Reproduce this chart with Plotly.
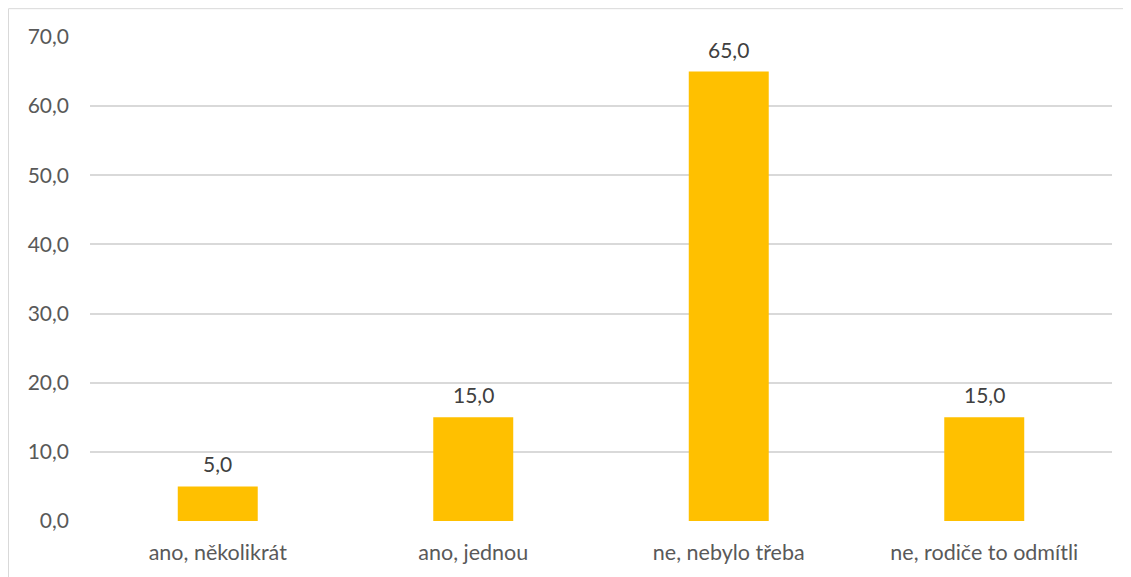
import plotly.graph_objects as go

categories = ["ano, několikrát", "ano, jednou", "ne, nebylo třeba", "ne, rodiče to odmítli"]
values = [5.0, 15.0, 65.0, 15.0]
y_ticks = [0, 10, 20, 30, 40, 50, 60, 70]

OFF = 8  # page body margin
W, H = 1131 - OFF, 577 - OFF
L, R, T, B = 90 - OFF, 19, 37 - OFF, 53
pw, ph = W - L - R, H - T - B

fig = go.Figure(go.Bar(
    x=categories, y=values,
    marker=dict(color="#FFC000", line=dict(width=0)),
    cliponaxis=False, hoverinfo="x+y",
))

for c, v in zip(categories, values):
    fig.add_annotation(x=c, y=v, text=f"{v:.1f}".replace(".", ","), showarrow=False,
                       yanchor="bottom", yshift=8,
                       font=dict(size=21, color="#404040", family="Lato"))

fig.update_layout(
    width=W, height=H,
    margin=dict(l=L, r=R, t=T, b=B, pad=0),
    paper_bgcolor="white", plot_bgcolor="white",
    separators=", ",
    bargap=0.687,
    showlegend=False,
    font=dict(family="Lato", size=21, color="#595959"),
    xaxis=dict(showgrid=False, showline=False, ticks="", ticklabelstandoff=16,
               tickfont=dict(size=21.5, color="#595959")),
    yaxis=dict(range=[0, 70], tickvals=y_ticks, tickformat=".1f",
               showgrid=True, gridcolor="#D9D9D9", gridwidth=1.5,
               zeroline=False, showline=False, ticks="", ticklen=0, ticklabelstandoff=20,
               tickfont=dict(size=21, color="#595959")),
    shapes=[dict(type="rect", xref="paper", yref="paper",
                 x0=(0.5 - L) / pw, x1=(W + 5 - L) / pw,
                 y0=(ph - (H + 5 - T)) / ph, y1=(ph - (0.5 - T)) / ph,
                 line=dict(color="#D9D9D9", width=1), fillcolor="rgba(0,0,0,0)", layer="below")],
)

fig.write_html("out.html")
